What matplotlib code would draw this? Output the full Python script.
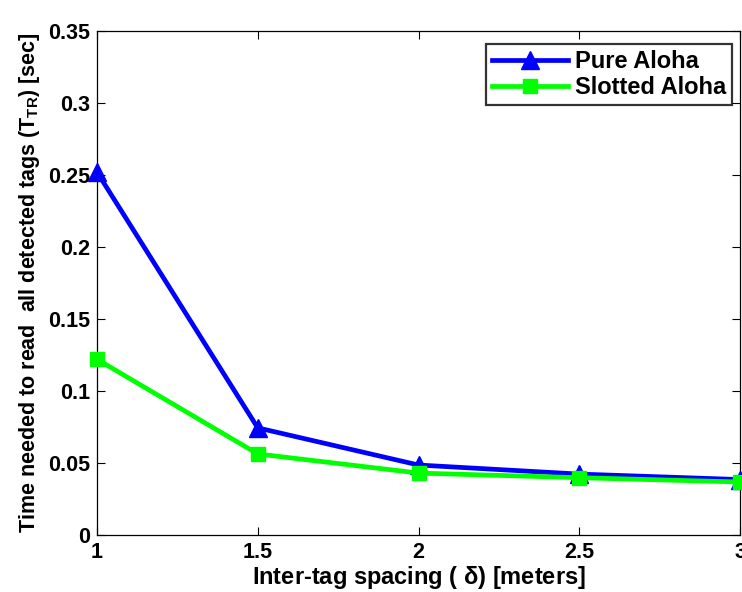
import matplotlib
matplotlib.use("Agg")
import matplotlib.pyplot as plt
from matplotlib.ticker import FuncFormatter

plt.rcParams['font.family'] = ['Liberation Sans', 'DejaVu Sans']
plt.rcParams['font.weight'] = 'bold'
plt.rcParams['mathtext.fontset'] = 'custom'
plt.rcParams['mathtext.rm'] = 'Liberation Sans'
plt.rcParams['mathtext.bf'] = 'Liberation Sans:bold'
plt.rcParams['mathtext.it'] = 'Liberation Sans:italic'

# Inter-tag spacing (m) and time to read all detected tags (s)
spacing = [1.0, 1.5, 2.0, 2.5, 3.0]
pure_aloha = [0.252, 0.0744, 0.0486, 0.0423, 0.0385]
slotted_aloha = [0.122, 0.0563, 0.0430, 0.0398, 0.0368]

series_labels = ["Pure Aloha", "Slotted Aloha"]
x_ticks = [1, 1.5, 2, 2.5, 3]
y_ticks = [0, 0.05, 0.1, 0.15, 0.2, 0.25, 0.3, 0.35]

fig = plt.figure(figsize=(7.42, 5.92), dpi=100)
ax = fig.add_axes([97 / 742, 1 - 535 / 592, (740 - 97) / 742, (535 - 31) / 592])

ax.plot(spacing, pure_aloha, color='#0000ff', lw=3.4, marker='^',
        markersize=13, label=series_labels[0], clip_on=False, zorder=3)
ax.plot(spacing, slotted_aloha, color='#00ff00', lw=3.4, marker='s',
        markersize=9.5, label=series_labels[1], clip_on=False, zorder=4)

ax.set_xlim(1, 3)
ax.set_ylim(0, 0.35)
ax.set_xticks(x_ticks)
ax.set_yticks(y_ticks)
ax.xaxis.set_major_formatter(FuncFormatter(lambda v, p: f"{v:g}"))
ax.yaxis.set_major_formatter(FuncFormatter(lambda v, p: f"{v:g}"))

ax.tick_params(direction='in', length=6, width=0.8, top=True, right=True,
               labelsize=15.5, pad=5)
for lab in ax.get_xticklabels() + ax.get_yticklabels():
    lab.set_fontweight('bold')
for s in ax.spines.values():
    s.set_linewidth(0.9)

ax.set_xlabel(r"Inter-tag spacing ( $\mathrm{\delta}$) [meters]",
              fontsize=17, fontweight='bold', labelpad=1)
ax.set_ylabel(r"Time needed to read  all detected tags (T$_{\mathbf{TR}}$) [sec]",
              fontsize=15.5, fontweight='bold', labelpad=4)

leg = ax.legend(loc='upper right', bbox_to_anchor=(0.995, 0.983),
                fontsize=17, frameon=True, fancybox=False, edgecolor='black',
                borderpad=0.25, handlelength=3.2, handletextpad=0.3,
                labelspacing=0.12, borderaxespad=0.2)
leg.get_frame().set_linewidth(1.6)
for t in leg.get_texts():
    t.set_fontweight('bold')

fig.savefig("out.png", dpi=100)
